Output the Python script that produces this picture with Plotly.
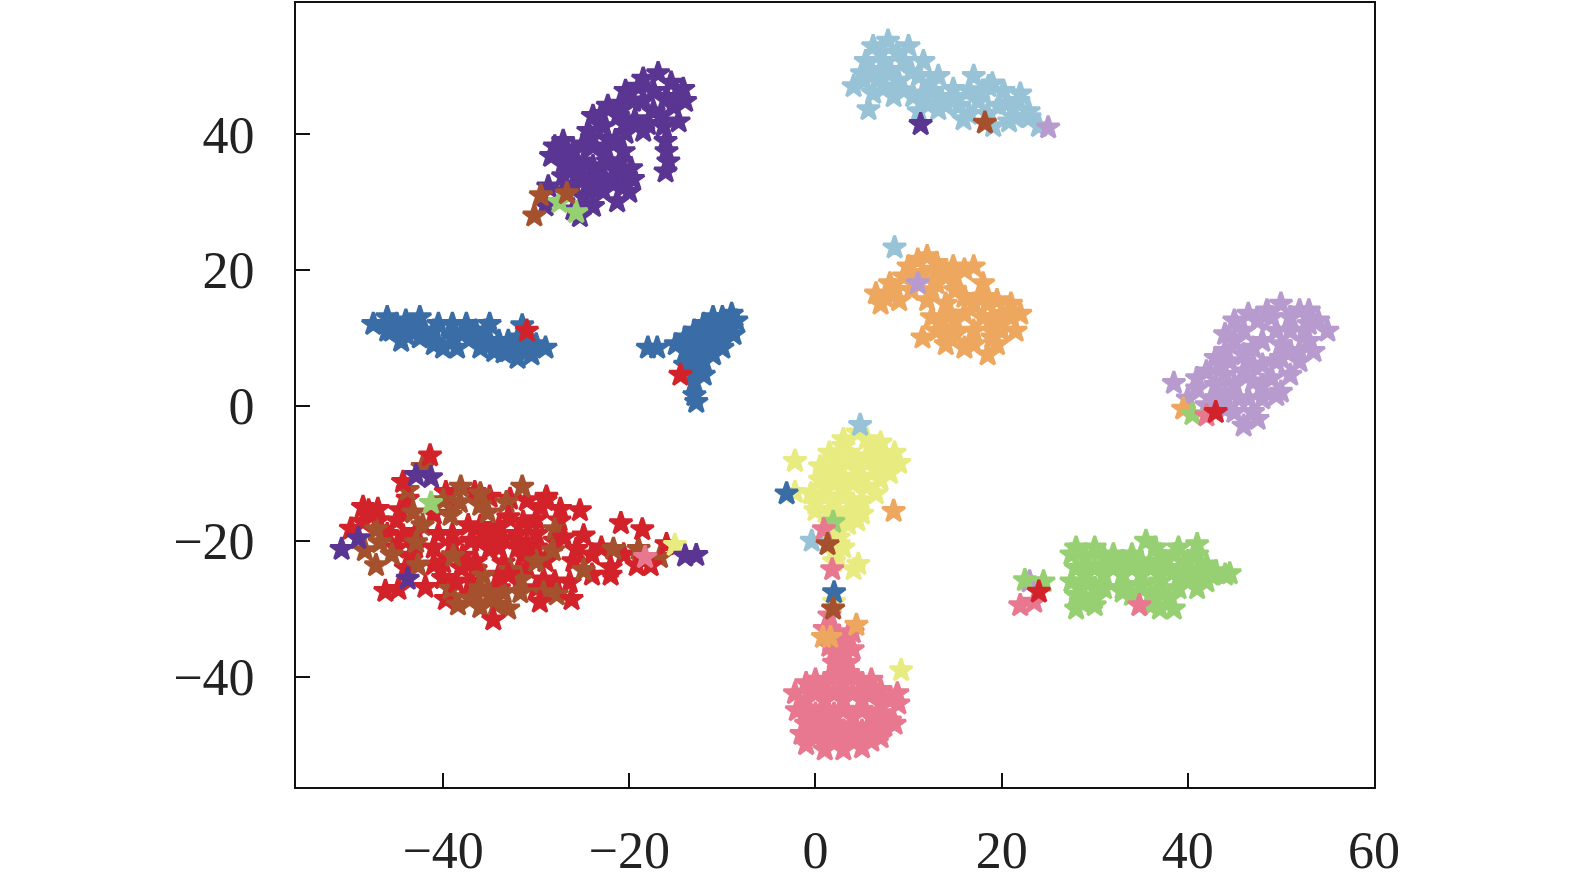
import plotly.graph_objects as go

purple = [(-16.9,49.0),(-18.5,48.2),(-20.4,46.4),(-22.3,44.2),(-23.9,42.7),(-14.2,46.7),(-15.5,47.6),(-17.4,46.4),(-19.6,44.9),(-21.2,42.7),(-22.8,41.2),(-24.4,40.5),(-15.3,44.2),(-14.0,44.9),(-17.4,43.4),(-19.4,42.2),(-14.7,41.9),(-16.3,41.2),(-18.5,40.5),(-20.4,40.2),(-22.3,39.3),(-23.9,38.2),(-16.1,39.0),(-15.8,36.0),(-16.1,34.5),(-27.1,39.0),(-28,38.2),(-26,37.5),(-24.9,36),(-26.6,35.3),(-23.9,35.3),(-22.3,36),(-20.6,37.5),(-21.2,34.5),(-22.8,33.4),(-24.9,33.4),(-27.1,33.8),(-28.4,36.8),(-19.6,33.4),(-20.6,32.3),(-22.8,31.6),(-24.9,30.8),(-27.1,31.6),(-28.7,32.3),(-23.9,29.4),(-21.3,30.1),(-25.3,27.9),(-26,28.9),(-29,29.5),(-26.5,37),(-24,33),
          (-19,47),(-16,45.5),(-18.5,45),(-21,44.5),(-16.5,42.8),(-20.5,41.5),(-23,43),(-18,41.5),(-25,38.5),(-27,37),(-25.5,34.8),(-22.5,37.8),(-21.5,39),(-24,39.5),(-21,36),(-19.8,35),(-23,35),(-26,32.5),(-24,32),(-22,33),(-20,31.5),(-27,36),(-16,37.5),(-15,45.5)]
light_blue = [(7.8,53.8),(6.2,53),(10,53),(5.4,50.8),(7.3,50.8),(9.5,50.8),(11.6,50.8),(5.2,47.9),(6.8,48.6),(8.9,47.9),(11.1,48.6),(13.2,48.6),(4.1,47.1),(6.2,46.1),(8.4,45.6),(10.5,45.6),(12.7,46.4),(14.8,46.7),(17,48.6),(18.6,47.1),(20.2,46.4),(11.1,43.4),(13.2,43.7),(15.4,44.2),(17.5,44.9),(19.7,44.2),(21.8,44.9),(22.9,43.4),(24,41.2),(20.8,41.9),(19.1,41.2),(15.9,42.2),(5.7,43.7),
              (7,52),(8.8,52),(6,49.5),(8,49.5),(10.3,49.2),(12.3,47.5),(7.5,47),(9.5,46.5),(5,49),(11.5,46),(13.5,45.3),(15,45.5),(16.5,46.5),(18,46),(20.5,44.5),(16.5,43),(18.5,43),(12,44.5),(21.5,42.5),(23,42.5),(14,44.3),(19,47.5),(22,46)]
orange = [(6.5,16.5),(7,15),(8.5,17),(9.5,19),(11,21.5),(12,22),(13,20),(11,18.5),(13,18),(12,15.5),(14,15),(15,17),(16,20),(17,20.5),(18,18),(17,15),(15,12.5),(13,11),(11.5,10),(14,9),(16,8.5),(18.5,7.5),(19.5,9),(21.5,11),(22,13.5),(21,15),(19,13),(17,11),(20,11),(8,18),(10,20.5),(13.5,12.5),(19.5,15.5),
          (7.5,16),(9,15.5),(10.3,17),(11.5,19.5),(12.5,17),(14,19),(15,19),(16,16),(18,16),(16,13.5),(18,13),(19,11),(20,13.5),(14,11),(12.5,13),(15,10.5),(17,9),(19,10),(21,13),(14.5,13.5),(18.5,15),(13,21),(14.8,20.5)]
blue = [(-47.5,12),(-46,13),(-45.5,11),(-44,12.5),(-44,10.5),(-42.5,13),(-42,11),(-41,9),(-40.5,12),(-39,10),(-38.5,8.5),(-37.5,12),(-37,10),(-36,8.5),(-35.5,11),(-35,12),(-34,9.5),(-33,8),(-32,7),(-31,8.5),(-30,9),(-31.5,10),(-33.5,7.8),(-29,8.5),
        (-46,11),(-43,11.5),(-41,11),(-39,12),(-38,10.5),(-36.5,11),(-45,12),(-33,9.5),(-32,9),(-34.5,8),(-30.5,7.5),(-35,9.5),(-40,8.5),(-42.5,10),(-44.5,9.5),
        (-18,8.5),(-17,8.5),(-15,9),(-14,8),(-13,7),(-12.5,6),(-13,5),(-13,3.5),(-13,1.5),(-12.8,0.5),(-14,10),(-13,11),(-12,10),(-12,12),(-11,13),(-10,13),(-9,13.5),(-9,11.5),(-10,10),(-11,9),(-12,8),(-10,8.5),(-8.5,12.5),
        (-13.5,9),(-11,11),(-9.5,12),(-12.5,9.5),(-11,7.5),(-13.5,6.5),(-12,6.5),(-12,4.5),(-14,6),(-8.8,10.5)]
lilac = [(38.5,3.3),(40,1),(41,2.5),(42,0),(43,3),(42,5),(43.5,6),(44,1.5),(45,-1),(46,-3),(47,-1),(45,3),(46,5),(44,8),(45,9.5),(46,11),(47,8.5),(48,6),(49,4),(48,1),(50,2),(51,4.5),(52,6.5),(50,9),(51,11),(49,13),(50,15),(52,14),(53,12),(55,11),(53,9.5),(52.5,11),(47.5,12.5),(46,7.5),(44,4.5),(49.5,6.5),(47,3.5),(51,8),
         (43,7),(44.5,6.5),(47,6),(48,9.5),(49.5,11),(51,13),(48.5,14),(46.5,13.5),(53,14),(54,12.5),(52,8),(50,7),(48,3),(45.5,1),(43,1),(41,4),(44,10.5),(45,12.5),(49.5,1.5),(47.5,-2),(44,-0.5),(46.5,1),(53.5,8)]
yellow = [(4.5,-4),(3,-5),(5.5,-5),(7,-5.5),(1.5,-7),(3.5,-7),(5.5,-7.5),(7.5,-7.5),(9,-8.5),(0.5,-9),(2.5,-9),(4.5,-9.5),(6.5,-9.5),(8,-10),(0.5,-11),(2,-11.5),(4,-11.5),(5.5,-12),(-0.5,-13),(1,-13.5),(3,-13.5),(5,-14),(6.5,-13),(0,-15.5),(1.5,-15.5),(3.5,-15.5),(5,-16),(1.5,-17.5),(3.5,-17.5),(2.5,-19.5),(1.5,-19),(2,-21.5),(3,-21),(2,-23),(4.6,-23.4),(4.1,-24.2),(-2.2,-8.2),(-2.2,-12.8),(2,-29),
          (2,-8),(4,-8),(6,-8),(8,-8.5),(3,-6),(6.5,-6.5),(1,-10),(3,-10.5),(5,-10.5),(7,-11),(1,-12),(3,-12.5),(0,-14.5),(2,-14.5),(4,-14.5),(2.5,-16.5),(4.5,-17),(2.5,-18.5),(2.5,-20.5),(2.3,-22),(8.5,-7),(7.5,-9.5)]
pink = [(1.5,-31),(1,-33),(2.5,-34),(3.5,-34),(4,-33.5),(1.5,-35.5),(3,-36),(4,-36),(2,-38),(3.5,-38),(-1,-41),(1,-41),(3,-41),(5,-41),(7,-42),(8.8,-42.5),(-2.2,-42.5),(-1,-43.5),(1,-43.5),(3,-43.5),(5,-43.5),(7,-44),(8.9,-44),(-2,-45),(0,-45.5),(2,-45.5),(4,-46),(6,-46),(8,-46.5),(-1,-47),(1,-47.5),(3,-48),(5,-48),(7,-48),(8.5,-47),(0,-49),(2,-49.5),(4,-49.5),(6,-49.5),(-1,-50),(1,-50.8),(3,-50.8),(5,-50.5),(7,-46),
        (0,-42.5),(2,-42.5),(4,-42.5),(6,-42.5),(8,-43.5),(-1,-45),(1,-45),(3,-45),(5,-45),(7,-45.5),(0,-47.5),(2,-47),(4,-47.5),(6,-47.5),(1,-49),(3,-49),(5,-49),(0,-40.5),(2,-40),(4,-40),(2,-36.5),(3,-37),(2.5,-39),(3.5,-39.5),(6,-40.5),(1.5,-33),(3,-35),(7,-49),(-1.5,-48.5)]
green = [(28,-21),(30,-21),(32,-22),(34,-22),(35.5,-20),(37,-22),(38.5,-22),(41,-20.5),(40,-23),(42,-23.5),(44,-25),(28,-24),(30,-24),(32,-24),(34,-24),(36,-24),(38,-24),(40,-25),(42,-26),(27.5,-26),(29,-26),(31,-27),(33,-27),(35,-26.5),(37,-26),(39,-27),(28,-28),(30,-28.5),(28,-30),(30,-29.5),(33,-27.5),(36,-28),(38,-28.5),(37,-30),(38.5,-30),(41,-27),
         (29,-22.5),(31,-22.5),(33,-23),(35,-23),(36.5,-21),(37.5,-23),(39,-21),(41,-22),(39,-25.5),(43,-24.5),(41,-24.5),(37,-25),(35,-25),(33,-25),(31,-25),(29,-25),(30,-27),(28.5,-27),(34,-28),(37,-27.5),(39.5,-25),(36,-29.5),(28.5,-29),(42.5,-25),(27.5,-22),(44.5,-24.8)]
red_back = [(-48.6,-15),(-47,-15.3),(-49.9,-18.2),(-43.8,-13.8),(-44.6,-15.5),(-44.3,-19.2),(-42.9,-18.7),(-39.7,-12.8),(-36.6,-12.8),(-37.3,-17.7),(-32.8,-13.8),(-28.9,-13.5),(-30,-16.8),(-31.4,-17.2),(-27.4,-15.3),(-25.3,-15.5),(-33.5,-19.7),(-35,-21.2),(-37.9,-22.2),(-40,-23.2),(-43.5,-22.2),(-24.9,-19.2),(-25.7,-21.2),(-20.6,-22),(-29.2,-25.7),(-26.4,-26.1),(-31.4,-22.2),(-33.5,-23.2),(-36.5,-24.2),(-39.7,-28.6),(-48.6,-17.2),
            (-47,-17),(-45,-17),(-41,-16),(-39,-14.5),(-35,-13.5),(-31,-14),(-29.5,-15),(-27.5,-17),(-34,-18),(-36,-17.8),(-32,-19),(-30,-19),(-39,-19),(-41,-21),(-39,-20.5),(-36,-20),(-34,-21),(-32,-21),(-30,-21),(-28,-20),(-26,-23),(-24,-22),(-23,-21),(-29,-23),(-31,-24),(-34,-25),(-37,-26),(-40,-25.5),(-34,-27),(-37,-28),(-28,-26),(-30,-27),(-43,-21),(-45,-21),(-46,-19),(-44,-24),(-24,-25),(-22,-25),(-38,-24),(-41,-23.5)]
brown = [(-42.2,-9.1),(-43.8,-12.5),(-38.1,-12),(-38.2,-14.3),(-39.2,-16.2),(-36,-14.7),(-33.2,-14.3),(-31.5,-12),(-35.2,-15.8),(-43.2,-15.8),(-42.2,-17.7),(-47.2,-18.3),(-46.8,-20.2),(-48.4,-21.4),(-47.2,-23.6),(-42.7,-23.6),(-42.9,-20.2),(-28,-18.3),(-28.2,-21.4),(-32.8,-24.3),(-24.9,-24.3),(-21.7,-21.2),(-19,-21.2),(-16.7,-22.4),(-39.2,-27.1),(-38.4,-29.4),(-36,-29.8),(-34.3,-29.4),(-33.5,-27.6),(-31.7,-27.6),(-29.2,-27.6),(-27.8,-27.9),(-31.7,-25.7),(-35.7,-25.1),(-38.9,-22.2),
         (-40,-14),(-36,-13),(-30,-23),(-36,-27),(-35,-28),(-33,-30),(-37,-28.5),(-45.5,-22)]
red_front = [(-41.4,-7.4),(-44.3,-11.3),(-20.9,-17.4),(-18.6,-18.3),(-16,-20.5),(-22,-23.9),(-19.2,-23.6),(-17.7,-23.6),(-44.8,-27.1),(-46.2,-27.4),(-41.9,-26.8),(-38.6,-26.1),(-34.6,-31.6),(-29.6,-29),(-26.2,-28.6),(-35,-19),(-31,-20.5),(-27,-19.5),(-37,-20),(-40.5,-19),(-33,-25),(-33,-16.5),(-29,-14),(-48,-15.5),(-36.5,-23)]

extra_purple = [(-50.9,-21.2),(-49.1,-19.6),(-42.9,-10.3),(-41.3,-10.6),(-43.8,-25.6),(-14,-22.2),(-12.8,-22.1),(11.3,41.5)]
extra_brown = [(-29.5,31),(-26.7,31.3),(-30.2,28),(1.3,-20.5),(1.9,-30),(18.2,41.7)]
extra_green = [(-27.5,30),(-25.7,28.5),(-41.3,-14.4),(1.9,-17.2),(22.5,-25.8),(24.5,-26),(40.5,-1.3)]
extra_light_blue = [(8.5,23.3),(4.8,-2.9),(-0.4,-20)]
extra_lilac = [(11,18),(25,41),(23,-26)]
extra_orange = [(8.4,-15.6),(4.4,-32.4),(1.6,-34.2),(0.8,-34.2),(39.5,-0.5)]
extra_blue = [(-31.5,11.8),(-3.1,-13),(2,-27.6)]
extra_pink = [(-18.3,-22.4),(0.9,-18.3),(1.8,-24.2),(22,-29.5),(23.5,-29),(34.8,-29.5),(42,-1.5)]
extra_yellow = [(-15.1,-20.6),(-2.2,-8.2),(9.2,-39.1)]
extra_red = [(-31,11),(-14.5,4.5),(24,-27.5),(43,-1)]

groups = [
    (purple, "#5B3592"), (light_blue, "#98C3D7"), (orange, "#EDA75F"), (blue, "#3A6DA6"),
    (lilac, "#B89BCE"), (yellow, "#E8EC80"), (pink, "#E8788F"), (green, "#97D073"),
    (red_back, "#D2222A"), (brown, "#A5512E"), (red_front, "#D2222A"),
    (extra_yellow, "#E8EC80"), (extra_light_blue, "#98C3D7"), (extra_lilac, "#B89BCE"),
    (extra_orange, "#EDA75F"), (extra_green, "#97D073"), (extra_pink, "#E8788F"),
    (extra_blue, "#3A6DA6"), (extra_purple, "#5B3592"), (extra_brown, "#A5512E"),
    (extra_red, "#D2222A"),
]

x_ticks = [-40, -20, 0, 20, 40, 60]
y_ticks = [-40, -20, 0, 20, 40]

fig = go.Figure()
for pts, colour in groups:
    fig.add_trace(go.Scatter(
        x=[p[0] for p in pts], y=[p[1] for p in pts], mode="markers",
        marker=dict(symbol="star", size=17, color=colour, line=dict(width=3, color=colour)),
        showlegend=False,
    ))

axis_common = dict(
    showgrid=False, zeroline=False, showline=True, linecolor="#111111", linewidth=2,
    mirror=True, ticks="inside", ticklen=14, tickwidth=2, tickcolor="#111111",
    tickfont=dict(family="Liberation Serif", size=52, color="#222222"),
)
fig.update_layout(
    width=1575, height=885, autosize=False,
    paper_bgcolor="white", plot_bgcolor="white", hovermode=False,
    margin=dict(l=296, r=201, t=1, b=98),
    xaxis=dict(range=[-55.8, 60], tickvals=x_ticks, ticklabelstandoff=17, **axis_common),
    yaxis=dict(range=[-56.3, 59.4], tickvals=y_ticks, ticklabelstandoff=29, **axis_common),
)
fig.write_html("out.html", config={"displayModeBar": False},
               post_script="document.body.style.margin='0';document.documentElement.style.overflow='hidden';")
